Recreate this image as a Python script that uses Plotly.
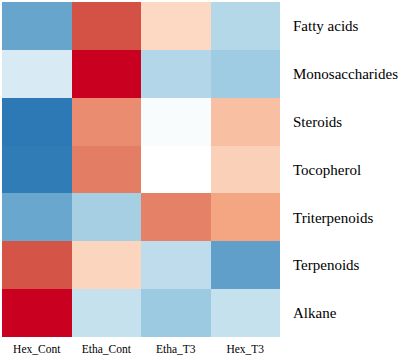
import plotly.graph_objects as go

samples = ["Hex_Cont", "Etha_Cont", "Etha_T3", "Hex_T3"]
compounds = ["Fatty acids", "Monosaccharides", "Steroids", "Tocopherol",
             "Triterpenoids", "Terpenoids", "Alkane"]
values = [
    [-0.70, 0.79, 0.26, -0.34],
    [-0.18, 1.00, -0.35, -0.44],
    [-0.98, 0.59, -0.03, 0.38],
    [-0.96, 0.645, 0.00, 0.30],
    [-0.69, -0.41, 0.63, 0.50],
    [0.78, 0.28, -0.30, -0.74],
    [1.00, -0.26, -0.46, -0.26],
]

colorscale = [
    [0.0, "rgb(40,118,180)"],
    [0.25, "rgb(146,197,222)"],
    [0.5, "rgb(255,255,255)"],
    [0.625, "rgb(253,219,199)"],
    [0.75, "rgb(244,165,130)"],
    [0.875, "rgb(214,96,77)"],
    [1.0, "rgb(202,0,32)"],
]

fig = go.Figure(go.Heatmap(
    z=values, x=samples, y=compounds,
    colorscale=colorscale, zmin=-1, zmax=1, showscale=False,
))

font_family = "Liberation Serif"
fig.update_layout(
    width=400, height=357,
    margin=dict(l=2, r=112, t=2, b=19),
    paper_bgcolor="white", plot_bgcolor="white",
    font=dict(family=font_family, color="black"),
    xaxis=dict(showgrid=False, zeroline=False, showline=False, ticks="",
               tickfont=dict(family=font_family, size=11.5), ticklabelstandoff=3),
    yaxis=dict(side="right", autorange="reversed", showgrid=False,
               zeroline=False, showline=False, ticks="",
               tickfont=dict(family=font_family, size=15), ticklabelstandoff=12),
)

fig.write_html("out.html")
